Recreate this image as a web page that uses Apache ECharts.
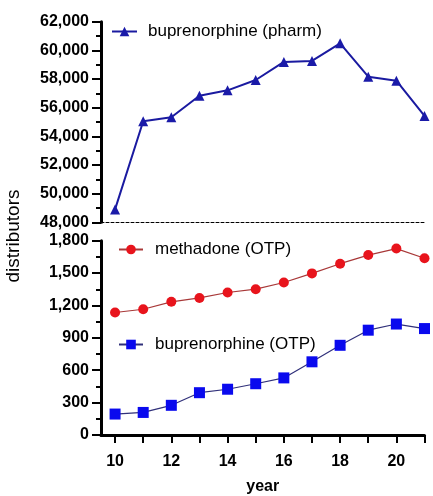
<!DOCTYPE html>
<html><head><meta charset="utf-8">
<script src="https://cdn.jsdelivr.net/npm/echarts@6/dist/echarts.min.js"></script>
<style>html,body{margin:0;padding:0;background:#fff}#c{width:433px;height:496px}</style>
</head><body><div id="c"></div>
<script>
const years = [10,11,12,13,14,15,16,17,18,19,20,21];
const xLabelValues = [10,12,14,16,18,20];
const bupPharm = [48900,55050,55330,56830,57210,57930,59190,59260,60490,58160,57880,55420];
const methadoneOTP = [1135,1165,1234,1270,1320,1351,1413,1497,1587,1667,1727,1637];
const bupOTP = [194,209,275,392,424,475,529,678,831,971,1028,986];
const names = ['buprenorphine (pharm)','methadone (OTP)','buprenorphine (OTP)'];

const FONT = '"Liberation Sans", Arial, sans-serif';
const pairs = a => years.map((y,i)=>[y,a[i]]);
const chart = echarts.init(document.getElementById('c'));
const tickLabel = {color:'#000', fontWeight:'bold', fontSize:16, fontFamily:FONT};
const yAxisBase = {
  axisLine:{show:true, onZero:false, lineStyle:{color:'#000', width:3}},
  axisTick:{show:true, length:9, lineStyle:{color:'#000', width:2}},
  minorTick:{show:true, splitNumber:2, length:5, lineStyle:{color:'#000', width:2}},
  splitLine:{show:false}
};
const fmt = v => v.toLocaleString('en-US');
chart.setOption({
  animation:false,
  grid:[
    {left:101, right:8.5, top:21.7, height:200.6},
    {left:101, right:8.5, top:240.7, height:200.3}
  ],
  xAxis:[
    {gridIndex:0, type:'value', min:9.5, max:21,
     axisLine:{show:true, onZero:false, lineStyle:{color:'#000', width:1, type:[3,2]}},
     axisTick:{show:false}, axisLabel:{show:false}, splitLine:{show:false}},
    {gridIndex:1, type:'value', min:9.5, max:21,
     name:'year', nameLocation:'middle', nameGap:44,
     nameTextStyle:{color:'#000', fontWeight:'bold', fontSize:16, fontFamily:FONT},
     axisLine:{show:true, onZero:false, lineStyle:{color:'#000', width:3}},
     axisTick:{show:true, length:8, customValues:years, lineStyle:{color:'#000', width:2}},
     axisLabel:Object.assign({margin:19, customValues:xLabelValues}, tickLabel),
     splitLine:{show:false}}
  ],
  yAxis:[
    Object.assign({gridIndex:0, type:'value', min:48000, max:62000, interval:2000}, yAxisBase,
      {axisLabel:Object.assign({margin:12, formatter:fmt}, tickLabel)}),
    Object.assign({gridIndex:1, type:'value', min:0, max:1800, interval:300}, yAxisBase,
      {axisLabel:Object.assign({margin:12, formatter:fmt}, tickLabel)})
  ],
  legend:[
    {data:[names[0]], left:106, top:18, itemWidth:25, itemHeight:12,
     textStyle:{color:'#000', fontSize:17, fontFamily:FONT, padding:[0,0,0,6]}},
    {data:[names[1]], left:113, top:236, itemWidth:24, itemHeight:12,
     textStyle:{color:'#000', fontSize:17, fontFamily:FONT, padding:[0,0,0,7]}},
    {data:[names[2]], left:113, top:331, itemWidth:24, itemHeight:12,
     textStyle:{color:'#000', fontSize:17, fontFamily:FONT, padding:[0,0,0,7]}}
  ],
  graphic:[
    {type:'text', x:14, y:236, rotation:Math.PI/2,
     style:{text:'distributors', fill:'#000', fontSize:19, fontFamily:FONT, align:'center', verticalAlign:'middle'}}
  ],
  series:[
    {name:names[0], type:'line', xAxisIndex:0, yAxisIndex:0, data:pairs(bupPharm), clip:false,
     symbol:'triangle', symbolSize:10,
     lineStyle:{color:'#1a1aa0', width:2}, itemStyle:{color:'#1a1aa8'}},
    {name:names[1], type:'line', xAxisIndex:1, yAxisIndex:1, data:pairs(methadoneOTP), clip:false,
     symbol:'circle', symbolSize:10,
     lineStyle:{color:'#a83838', width:1.2}, itemStyle:{color:'#e8141c'}},
    {name:names[2], type:'line', xAxisIndex:1, yAxisIndex:1, data:pairs(bupOTP), clip:false,
     symbol:'rect', symbolSize:11,
     lineStyle:{color:'#30307a', width:1.2}, itemStyle:{color:'#0a0aee'}}
  ]
});
</script></body></html>
